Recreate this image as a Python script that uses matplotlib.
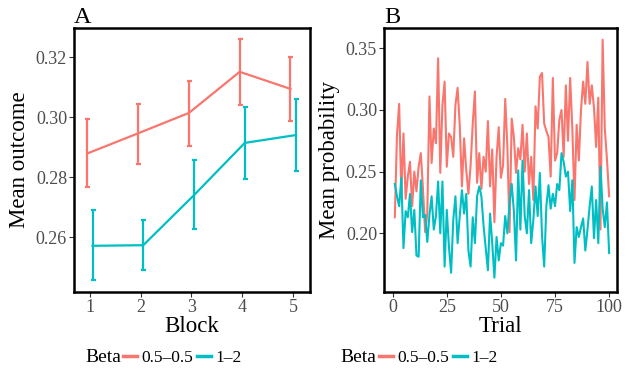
import matplotlib
matplotlib.use("Agg")
import matplotlib.pyplot as plt
import numpy as np

plt.rcParams['font.family'] = ['Liberation Serif', 'DejaVu Serif']

# colours (ggplot defaults)
red = '#F8766D'
cyan = '#00BFC4'
labels = ['0.5\u20130.5', '1\u20132']

# panel A: mean outcome per block with error bars
blocks = [1, 2, 3, 4, 5]
outcome_a = [0.2879, 0.2946, 0.3014, 0.3151, 0.3094]
lo_a = [0.2766, 0.2843, 0.2904, 0.3040, 0.2988]
hi_a = [0.2992, 0.3043, 0.3122, 0.3260, 0.3200]
outcome_b = [0.2571, 0.2573, 0.2740, 0.2914, 0.2940]
lo_b = [0.2457, 0.2492, 0.2626, 0.2794, 0.2821]
hi_b = [0.2689, 0.2657, 0.2857, 0.3034, 0.3061]

# panel B: mean probability per trial
trials = list(range(1, 101))
prob_a = [0.213, 0.280, 0.305, 0.232, 0.281, 0.228, 0.246, 0.258, 0.222, 0.250,
          0.234, 0.254, 0.265, 0.236, 0.201, 0.216, 0.311, 0.257, 0.285, 0.273,
          0.342, 0.249, 0.304, 0.323, 0.254, 0.281, 0.278, 0.262, 0.304, 0.318,
          0.287, 0.238, 0.277, 0.251, 0.232, 0.255, 0.289, 0.315, 0.241, 0.265,
          0.236, 0.262, 0.250, 0.291, 0.238, 0.268, 0.209, 0.262, 0.286, 0.245,
          0.255, 0.309, 0.270, 0.201, 0.293, 0.278, 0.249, 0.269, 0.260, 0.288,
          0.250, 0.281, 0.240, 0.262, 0.227, 0.303, 0.285, 0.327, 0.330, 0.289,
          0.283, 0.278, 0.246, 0.326, 0.259,
          0.265, 0.292, 0.300, 0.262, 0.320, 0.275, 0.326, 0.285, 0.227, 0.288,
          0.259, 0.300, 0.323, 0.305, 0.339, 0.305, 0.320, 0.302, 0.270, 0.310,
          0.203, 0.357, 0.285, 0.260, 0.230]
prob_b = [0.240, 0.230, 0.222, 0.245, 0.188, 0.218, 0.213, 0.232, 0.201, 0.219,
          0.182, 0.181, 0.243, 0.213, 0.215, 0.193, 0.215, 0.230, 0.203, 0.214,
          0.242, 0.200, 0.242, 0.173,
          0.219, 0.189, 0.168, 0.211, 0.230, 0.192, 0.214, 0.235, 0.216, 0.232,
          0.186, 0.173, 0.213, 0.192, 0.230, 0.238, 0.230, 0.206, 0.188, 0.170,
          0.216, 0.192, 0.164, 0.197, 0.178, 0.192,
          0.190, 0.214, 0.200, 0.225, 0.240, 0.218, 0.178, 0.251, 0.203, 0.259,
          0.214, 0.200, 0.235, 0.192, 0.211, 0.238, 0.214, 0.249, 0.198, 0.173,
          0.222, 0.239, 0.220, 0.232, 0.222,
          0.240, 0.235, 0.265, 0.258, 0.246, 0.250, 0.218, 0.243, 0.176, 0.205,
          0.197, 0.205, 0.212, 0.186, 0.203, 0.222, 0.238, 0.196, 0.227, 0.192,
          0.254, 0.220, 0.205, 0.225, 0.184]

fig = plt.figure(figsize=(6.31, 3.75), dpi=100)
axA = fig.add_axes([74/631, 1-292/375, 236/631, 264/375])
axB = fig.add_axes([384/631, 1-292/375, 232.7/631, 264/375])


def style(ax):
    for s in ax.spines.values():
        s.set_linewidth(1.8)
        s.set_color('black')
    ax.tick_params(axis='both', labelsize=13, labelcolor='#4D4D4D',
                   color='#333333', length=3.5, width=0.8, pad=1.5)


# panel A
xa = np.array(blocks)
dodge = 0.05
for x, m, lo, hi, c, lab in [(xa - dodge, outcome_a, lo_a, hi_a, red, labels[0]),
                             (xa + dodge, outcome_b, lo_b, hi_b, cyan, labels[1])]:
    m = np.array(m)
    err = [m - np.array(lo), np.array(hi) - m]
    axA.plot(x, m, color=c, lw=1.6, label=lab)
    axA.errorbar(x, m, yerr=err, fmt='none', ecolor=c, elinewidth=1.6,
                 capsize=1.8, capthick=1.6)
axA.set_xlim(0.685, 5.335)
axA.set_ylim(0.2417, 0.3297)
axA.set_xticks(blocks)
axA.set_yticks([0.26, 0.28, 0.30, 0.32])
axA.set_yticklabels(['0.26', '0.28', '0.30', '0.32'])
axA.set_xlabel('Block', fontsize=16.5, labelpad=0)
axA.set_ylabel('Mean outcome', fontsize=16.5, labelpad=4)
axA.set_title('A', loc='left', fontsize=17.5, pad=3)
style(axA)

# panel B
axB.plot(trials, prob_a, color=red, lw=1.5, label=labels[0])
axB.plot(trials, prob_b, color=cyan, lw=1.5, label=labels[1])
axB.set_xlim(-4, 103.5)
axB.set_ylim(0.1524, 0.3665)
axB.set_xticks([0, 25, 50, 75, 100])
axB.set_yticks([0.20, 0.25, 0.30, 0.35])
axB.set_yticklabels(['0.20', '0.25', '0.30', '0.35'])
axB.set_xlabel('Trial', fontsize=16.5, labelpad=0)
axB.set_ylabel('Mean probability', fontsize=16.5, labelpad=4)
axB.set_title('B', loc='left', fontsize=17.5, pad=3)
style(axB)

# legends below each panel
for ax, tx, kx in [(axA, 85, 123), (axB, 340, 379)]:
    fig.text(tx/631, 1-358/375, 'Beta', fontsize=14, va='center', ha='left')
    h, l = ax.get_legend_handles_labels()
    h = [plt.Line2D([], [], color=hh.get_color(), lw=2.5) for hh in h]
    fig.legend(h, l, loc='center left', bbox_to_anchor=(kx/631, 1-358/375),
               ncol=2, frameon=False, fontsize=12.5, handlelength=0.8,
               handletextpad=0.25, columnspacing=0.25, borderpad=0,
               borderaxespad=0)

fig.savefig('out.png', dpi=100)
